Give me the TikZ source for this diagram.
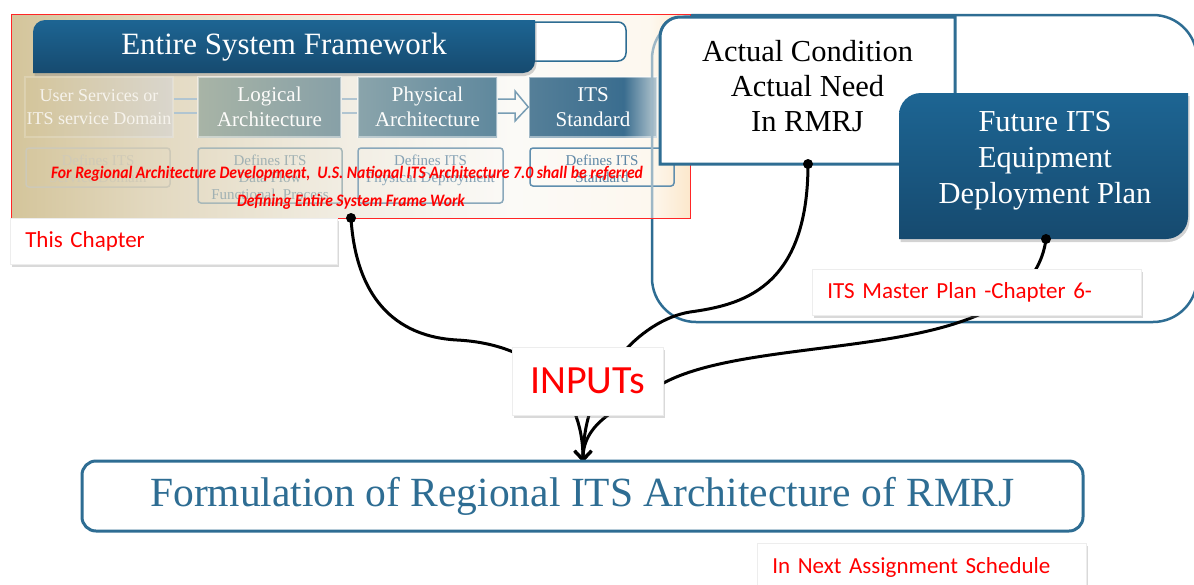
\documentclass[tikz,border=0pt]{standalone}
\usepackage{fontspec}
\usepackage{graphicx}
\setmainfont{Liberation Serif}
\newfontfamily\carl{Carlito}
\usetikzlibrary{arrows.meta,shadows}
\definecolor{itsblue}{HTML}{2E6D93}
\definecolor{bantop}{HTML}{1D6593}
\definecolor{banbot}{HTML}{164A6F}
\definecolor{lightline}{HTML}{9DB7C6}
\definecolor{pA}{HTML}{D4C59B}
\definecolor{pB}{HTML}{E2D8BF}
\definecolor{pC}{HTML}{F2EEE4}
\definecolor{pD}{HTML}{FBFAF7}
\definecolor{pE}{HTML}{FDF8EF}
\definecolor{pF}{HTML}{FCE8CC}
\definecolor{sA}{HTML}{557F98}
\definecolor{sB}{HTML}{3A6D8F}
\definecolor{sC}{HTML}{B6C8D0}
\pgfdeclarehorizontalshading{panelshade}{100bp}{color(0bp)=(pA); color(25bp)=(pA); color(35bp)=(pB); color(50bp)=(pC); color(62bp)=(pD); color(72bp)=(pE); color(75bp)=(pF); color(100bp)=(pF)}
\pgfdeclarehorizontalshading{itsshade}{100bp}{color(0bp)=(sA); color(25bp)=(sA); color(62bp)=(sB); color(75bp)=(sC); color(100bp)=(sC)}
\tikzset{
  conn/.style={line width=3pt, black, line cap=round},
  tipconn/.style={conn, -{Straight Barb[length=9pt,width=17pt]}},
  dotc/.style={circle, fill=black, inner sep=0pt, minimum size=10pt},
  whitebox/.style={fill=white, draw=black!7, line width=0.5pt,
    drop shadow={shadow xshift=1.5pt, shadow yshift=-2.5pt, opacity=0.3}},
  labelbox/.style={whitebox, inner xsep=15pt, inner ysep=0pt, align=left,
    font=\carl\fontsize{23}{27}\selectfont, text=red, anchor=west, minimum height=46pt},
  fadebox/.style={draw=white, draw opacity=0.45, line width=1.5pt, minimum height=60pt, inner sep=0pt,
    align=center, font=\fontsize{21}{25}\selectfont},
  lowbox/.style={line width=1.5pt, rounded corners=3pt, inner sep=0pt},
  lowtxt/.style={font=\fontsize{15}{17}\selectfont, align=center, anchor=north, inner sep=0pt},
  dblline/.style={draw=lightline!80!white, line width=1.5pt},
  bluebox/.style={top color=bantop, bottom color=banbot,
    drop shadow={shadow xshift=1.5pt, shadow yshift=-3pt, opacity=0.35}},
  redline/.style={font=\carl\bfseries\itshape\fontsize{17.5}{20}\selectfont, text=red, inner sep=0pt}
}
\begin{document}
\begin{tikzpicture}[x=1pt,y=-1pt]
\useasboundingbox (0,0) rectangle (1194,584);

% outer rounded frame
\draw[itsblue, line width=2.5pt, rounded corners=44pt] (652,15) rectangle (1197,322);

% framework panel
\node[shade, shading=panelshade, minimum width=678pt, minimum height=203pt, inner sep=0pt] (panel) at (351,116.5) {};

% white outlined box behind banner
\draw[fill=white, draw=itsblue, line width=1.5pt, rounded corners=8pt] (420,22) rectangle (626,61);

% faded upper boxes
\node[fadebox, draw opacity=0.2, minimum width=148pt, left color=pA, right color=black!10!pC, text=white!70!pB,
      font=\fontsize{18}{23}\selectfont] (usr) at (99,107) {User Services or\\ITS service Domain};
\node[fadebox, minimum width=143pt, left color={rgb,255:red,168;green,180;blue,166}, right color={rgb,255:red,135;green,160;blue,167}, text=white!92!pB] (logi) at (269.5,107) {Logical\\Architecture};
\node[fadebox, minimum width=139pt, left color={rgb,255:red,138;green,164;blue,171}, right color={rgb,255:red,95;green,136;blue,157}, text=white!95!pB] (phys) at (427.5,107) {Physical\\Architecture};
\node[fadebox, minimum width=128pt, shade, shading=itsshade, text=white] (itsstd) at (593,107) {ITS\\Standard};

% connectors between upper boxes
\draw[dblline] (usr.east |- 0,99) -- (logi.west |- 0,99);
\draw[dblline] (usr.east |- 0,113) -- (logi.west |- 0,113);
\draw[dblline] (logi.east |- 0,99) -- (phys.west |- 0,99);
\draw[dblline] (logi.east |- 0,113) -- (phys.west |- 0,113);
\draw[draw={rgb,255:red,120;green,157;blue,180}, line width=1.5pt, line join=miter]
  (phys.east |- 0,99) -- (515,99) -- (515,91) -- (itsstd.west) -- (515,121) -- (515,113) -- (phys.east |- 0,113);

% faded lower boxes
\node[lowbox, draw={rgb,255:red,205;green,201;blue,184}, minimum width=144pt, minimum height=39pt] (usrlow) at (98,167.5) {};
\node[lowbox, draw={rgb,255:red,168;green,184;blue,185}, minimum width=144pt, minimum height=55pt] (logilow) at (270,175.5) {};
\node[lowbox, draw={rgb,255:red,138;green,168;blue,187}, minimum width=145pt, minimum height=55pt] (physlow) at (430.5,175.5) {};
\node[lowbox, draw={rgb,255:red,95;green,142;blue,174}, minimum width=144pt, minimum height=38pt] (itslow) at (602,167) {};
\node[lowtxt, text={rgb,255:red,208;green,202;blue,183}] (usrlowt) at (98,155) {Defines ITS\\Service Domain};
\node[lowtxt, text={rgb,255:red,161;green,177;blue,179}] (logilowt) at (270,155) {Defines ITS\\Data Flow\\Functional, Process};
\node[lowtxt, text={rgb,255:red,134;green,162;blue,181}] (physlowt) at (430.5,155) {Defines ITS\\Physical Deployment};
\node[lowtxt, text={rgb,255:red,94;green,135;blue,166}] (itslowt) at (602,155) {Defines ITS\\Standard};

% banner
\shade[bluebox] (33,73) [rounded corners=12pt] -- (33,20) [sharp corners] -- (535,20) [rounded corners=12pt] -- (535,73) [sharp corners] -- cycle;
\node[text=white, font=\fontsize{31}{37}\selectfont] (esf) at (284,47) {Entire System Framework};

% red notes
\node[redline] (note1) at (347,174) {\resizebox{592pt}{\height}{For Regional Architecture Development,\ \ U.S. National ITS Architecture 7.0 shall be referred}};
\node[redline] (note2) at (351,202) {\resizebox{228pt}{\height}{Defining Entire System Frame Work}};

% light part of outer frame over the panel
\begin{scope}
\clip (panel.north west) rectangle (panel.south east);
\draw[lightline, line width=2.5pt, rounded corners=44pt] (652,15) rectangle (1197,322);
\end{scope}
\draw[red!85!white, line width=1.2pt] (panel.north west) rectangle (panel.south east);

% actual condition box
\draw[fill=white, draw=itsblue, line width=3pt] (660,164) [rounded corners=20pt] -- (660,17) [sharp corners] -- (955,17) -- (955,164) -- cycle;
\node[font=\fontsize{30.5}{35}\selectfont, align=center] (act) at (807.5,86) {Actual Condition\\Actual Need\\In RMRJ};

% future ITS box
\shade[bluebox] (899,239) [rounded corners=22pt] -- (899,93) [sharp corners] -- (1188,93) [rounded corners=22pt] -- (1188,239) [sharp corners] -- cycle;
\node[text=white, font=\fontsize{30.5}{36}\selectfont, align=center] (fut) at (1045,161) {Future ITS\\Equipment\\Deployment Plan};

% connector end points
\coordinate (d1) at (351,218);
\coordinate (d2) at (808,164);
\coordinate (d3) at (1046,239);
\coordinate (tip) at (583,462);

% curved connectors
\draw[tipconn] (d1) .. controls (355,285) and (385,336) .. (457,340) .. controls (535,344) and (583,390) .. (tip);
\draw[tipconn] (d2) .. controls (808,290) and (740,305) .. (690,312) .. controls (640,320) and (583,380) .. (tip);
\draw[tipconn] (d3) .. controls (1040,285) and (1000,312) .. (940,328) .. controls (850,352) and (720,350) .. (660,385) .. controls (625,405) and (583,420) .. (tip);

% label boxes
\node[labelbox, minimum width=327pt, text width=297pt] (chap) at (10,241) {This Chapter};
\node[labelbox, minimum width=329pt, text width=299pt] (master) at (812,292) {ITS Master Plan -Chapter 6-};
\node[whitebox, minimum width=151pt, minimum height=68pt, inner sep=0pt, text=red,
      font=\carl\fontsize{40}{48}\selectfont] (inp) at (587.5,381) {INPUTs};
\node[labelbox, minimum width=329pt, text width=299pt, minimum height=49pt] (next) at (757,567.5) {In Next Assignment Schedule};

% formulation box
\node[draw=itsblue, fill=white, line width=3pt, rounded corners=14pt, minimum width=1001pt, minimum height=70pt,
      text=itsblue, font=\fontsize{41.5}{50}\selectfont] (form) at (582.5,496) {Formulation of Regional ITS Architecture of RMRJ};

% dots
\node[dotc] (dot1) at (d1) {};
\node[dotc] (dot2) at (d2) {};
\node[dotc] (dot3) at (d3) {};
\end{tikzpicture}
\end{document}
